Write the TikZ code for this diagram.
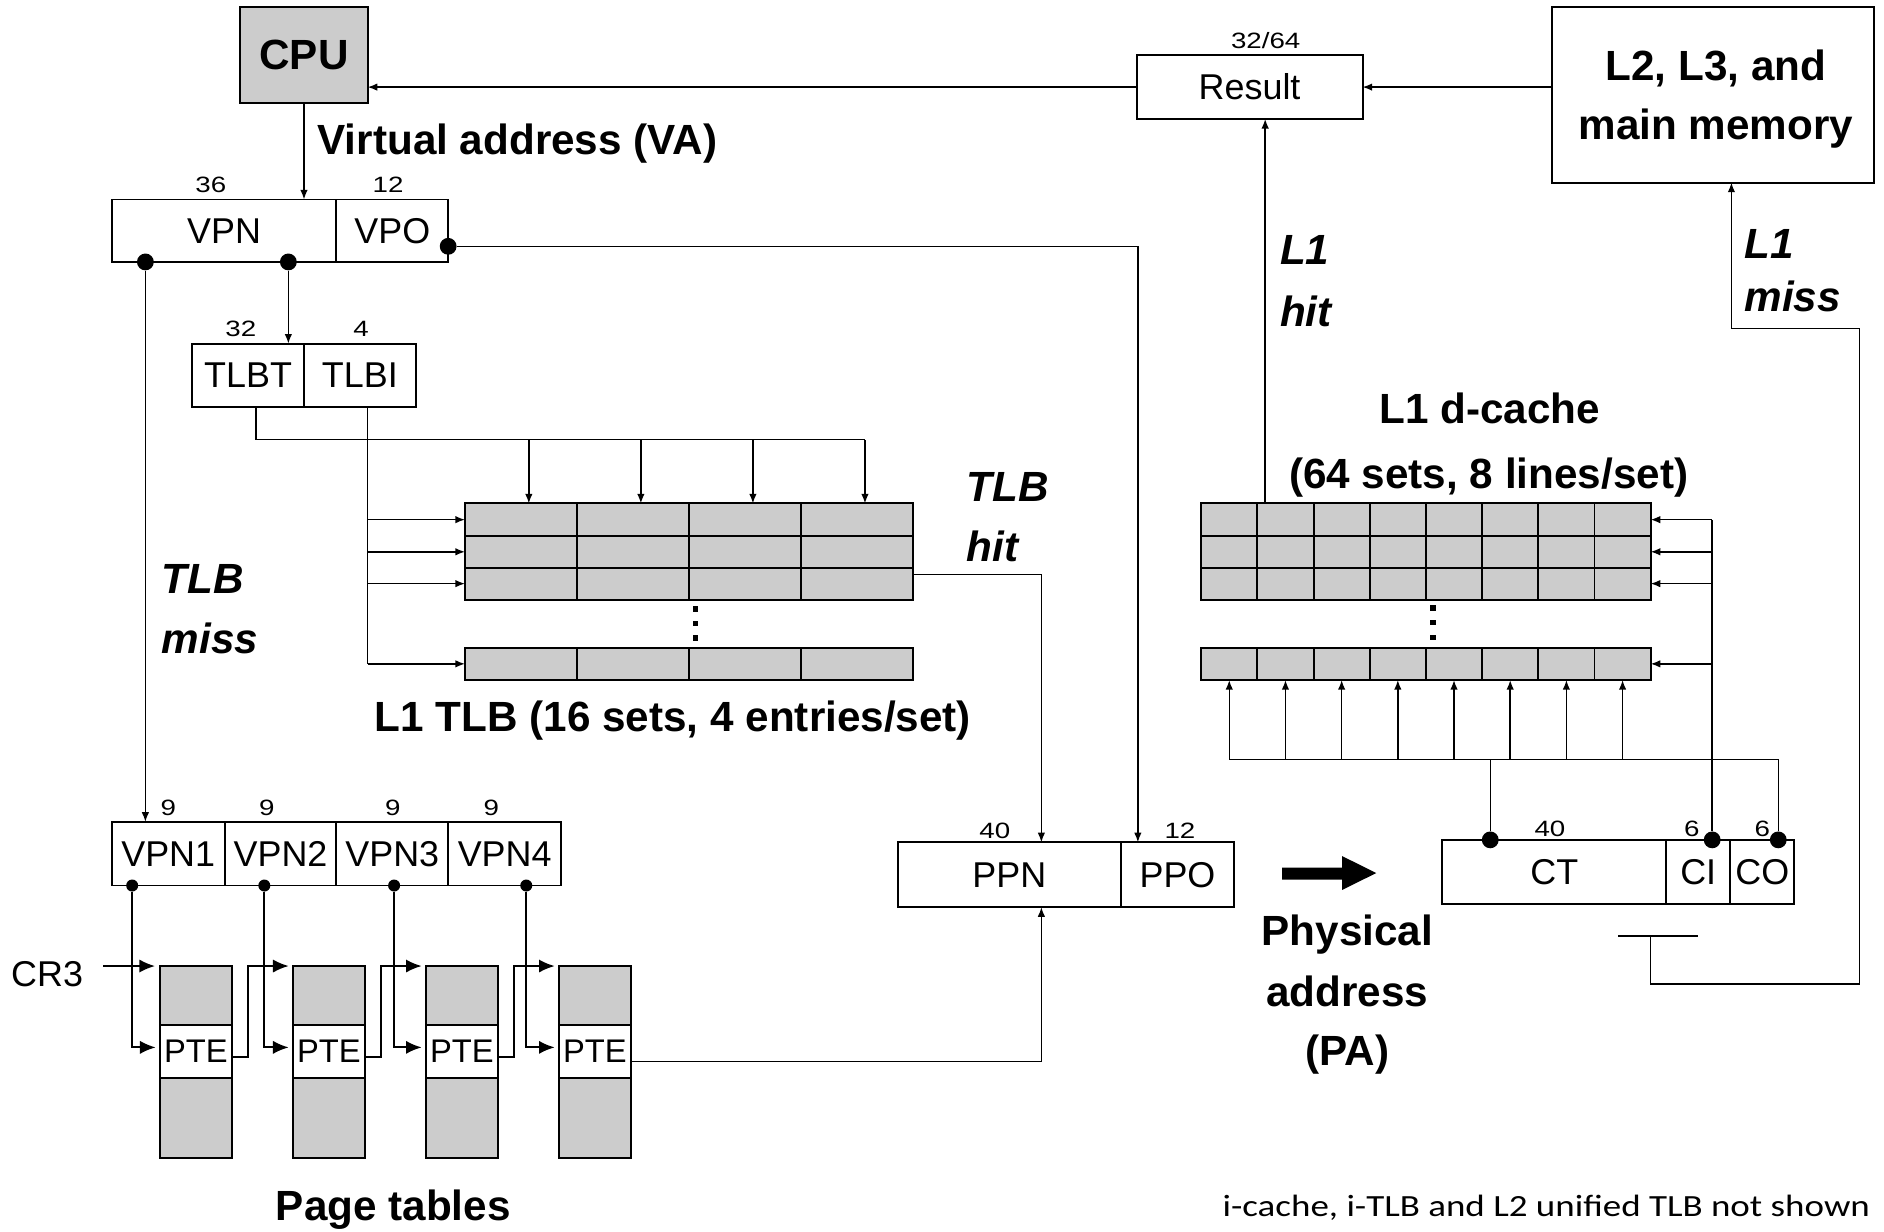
\documentclass[tikz,border=0pt]{standalone}
\usepackage{fontspec}
\setmainfont{Liberation Sans}
\newfontfamily\numfont[FakeStretch=1.25]{Liberation Sans}
\newfontfamily\notefont[FakeStretch=1.2]{Carlito}
\usetikzlibrary{arrows.meta}
\definecolor{cellgray}{HTML}{CCCCCC}
\newcommand\regf{\fontsize{17}{20}\selectfont}
\newcommand\bigf{\fontsize{20}{24}\selectfont\bfseries}
\newcommand\itf{\fontsize{20}{24}\selectfont\bfseries\itshape}
\newcommand\numf{\numfont\fontsize{10.5}{12}\selectfont}
\newcommand\ptef{\fontsize{15.5}{18}\selectfont}
\newcommand\notef{\notefont\fontsize{14.6}{17}\selectfont}
\newcommand\mkbox[7][]{\node[#1, minimum width={(#5-#3)*0.2mm}, minimum height={(#6-#4)*0.2mm}] (#2) at ({(#3+#5)/2},{(#4+#6)/2}) {#7};}
\begin{document}
\begin{tikzpicture}[x=0.2mm,y=-0.2mm,
  bx/.style={draw,line width=0.9pt,inner sep=0pt,outer sep=0pt},
  gr/.style={bx,fill=cellgray},
  con/.style={line width=0.7pt},
  arr/.style={con,-{Latex[length=1.6mm,width=1.25mm]}},
  bigarr/.style={line width=0.85pt,-{Latex[length=2.6mm,width=2.2mm]}},
  bigdot/.style={circle,fill,inner sep=0pt,minimum size=2.8mm},
  smalldot/.style={circle,fill,inner sep=0pt,minimum size=2mm},
  lab/.style={inner sep=0pt,outer sep=0pt},
]
\useasboundingbox (0,0) rectangle (1568,1025);

% ---------- boxes ----------
\mkbox[gr,font=\bigf]{cpu}{200}{6}{306}{86}{CPU}
\mkbox[bx,font=\regf]{result}{946}{46}{1134}{99}{Result}
\mkbox[bx]{l2}{1292}{6}{1560}{152}{}
\mkbox[bx,font=\regf]{vpn}{93}{166}{280}{218}{VPN}
\mkbox[bx,font=\regf]{vpo}{280}{166}{373}{218}{VPO}
\mkbox[bx,font=\regf]{tlbt}{160}{286}{253}{339}{TLBT}
\mkbox[bx,font=\regf]{tlbi}{253}{286}{346}{339}{TLBI}
\foreach \i/\xa/\xb in {1/93/187,2/187/280,3/280/373,4/373/467}
  {\mkbox[bx,font=\regf]{vpn\i}{\xa}{684}{\xb}{737}{VPN\i}}
\mkbox[bx,font=\regf]{ppn}{747}{701}{933}{755}{PPN}
\mkbox[bx,font=\regf]{ppo}{933}{701}{1027}{755}{PPO}
\mkbox[bx,font=\regf]{ct}{1200.3}{699}{1386.8}{752.7}{CT}
\mkbox[bx,font=\regf]{ci}{1386.8}{699}{1440}{752.7}{CI}
\mkbox[bx,font=\regf]{co}{1440}{699}{1493.4}{752.7}{CO}

% TLB grid
\foreach \r/\ya/\yb in {1/419/446,2/446/472.5,3/472.5/499,4/539/566}{
  \foreach \c in {1,...,4}{
    \pgfmathsetmacro\xa{387+(\c-1)*93.25}
    \pgfmathsetmacro\xb{387+\c*93.25}
    \mkbox[gr]{tlb-\r-\c}{\xa}{\ya}{\xb}{\yb}{}
  }
}
% cache grid
\foreach \r/\ya/\yb in {1/419/446,2/446/472.5,3/472.5/499,4/539/566}{
  \foreach \c in {1,...,8}{
    \pgfmathsetmacro\xa{999.7+(\c-1)*46.7625}
    \pgfmathsetmacro\xb{999.7+\c*46.7625}
    \mkbox[gr]{dc-\r-\c}{\xa}{\ya}{\xb}{\yb}{}
  }
}
% page tables
\foreach \i in {1,...,4}{
  \pgfmathsetmacro\xa{133+(\i-1)*110.7}
  \pgfmathsetmacro\xb{\xa+60}
  \mkbox[gr]{pta\i}{\xa}{804}{\xb}{853}{}
  \mkbox[bx,fill=white,font=\ptef]{pte\i}{\xa}{853}{\xb}{897}{PTE}
  \mkbox[gr]{ptb\i}{\xa}{897}{\xb}{964}{}
}
% ellipsis dots
\foreach \y in {507,519,531}{\fill (576.7,\y-2.3) rectangle ++(4.6,4.6);}
\foreach \y in {506,518,530.5}{\fill (1190.2,\y-2.3) rectangle ++(4.6,4.6);}

% ---------- labels ----------
\node[lab,font=\bigf,anchor=base west] (va) at (264.3,128.2) {Virtual address (VA)};
\node[lab,font=\numf,anchor=base] (n36) at (175.5,160.4) {36};
\node[lab,font=\numf,anchor=base] (n12) at (323,160.4) {12};
\node[lab,font=\numf,anchor=base] (n32) at (200.5,280.2) {32};
\node[lab,font=\numf,anchor=base] (n4) at (300.6,280.2) {4};
\foreach \i/\x in {1/140,2/222,3/327,4/409}{\node[lab,font=\numf,anchor=base] (n9-\i) at (\x,679) {9};}
\node[lab,font=\numf,anchor=base] (n40a) at (828,697.7) {40};
\node[lab,font=\numf,anchor=base] (n12b) at (982,697.7) {12};
\node[lab,font=\numf,anchor=base] (n40b) at (1290,695.8) {40};
\node[lab,font=\numf,anchor=base] (n6a) at (1408,695.8) {6};
\node[lab,font=\numf,anchor=base] (n6b) at (1466.7,695.8) {6};
\node[lab,font=\numf,anchor=base] (n3264) at (1053.4,40.2) {32/64};
\node[lab,font=\bigf,anchor=base] (l2a) at (1428,66.6) {L2, L3, and};
\node[lab,font=\bigf,anchor=base] (l2b) at (1428,116.5) {main memory};
\node[lab,font=\itf,anchor=base west] (hit1) at (1065.3,220.5) {L1};
\node[lab,font=\itf,anchor=base west] (hit2) at (1065.3,271.9) {hit};
\node[lab,font=\itf,anchor=base west] (miss1) at (1452,215) {L1};
\node[lab,font=\itf,anchor=base west] (miss2) at (1452,259.4) {miss};
\node[lab,font=\itf,anchor=base west] (th1) at (804.6,417) {TLB};
\node[lab,font=\itf,anchor=base west] (th2) at (804.6,467.5) {hit};
\node[lab,font=\itf,anchor=base west] (tm1) at (134.6,493.8) {TLB};
\node[lab,font=\itf,anchor=base west] (tm2) at (134.6,543.8) {miss};
\node[lab,font=\bigf,anchor=base west] (l1tlb) at (312,609) {L1 TLB (16 sets, 4 entries/set)};
\node[lab,font=\bigf,anchor=base] (dca) at (1240,352.3) {L1 d-cache};
\node[lab,font=\bigf,anchor=base] (dcb) at (1239,406.4) {(64 sets, 8 lines/set)};
\node[lab,font=\bigf,anchor=base] (pa1) at (1121.4,786.5) {Physical};
\node[lab,font=\bigf,anchor=base] (pa2) at (1121.4,837.9) {address};
\node[lab,font=\bigf,anchor=base] (pa3) at (1121.4,886.4) {(PA)};
\node[lab,font=\regf,anchor=base west] (cr3) at (9.3,821.2) {CR3};
\node[lab,font=\bigf,anchor=base west] (ptl) at (229.6,1015.4) {Page tables};
\node[lab,font=\notef,anchor=base west] (note) at (1017.5,1012.6) {i-cache, i-TLB and L2 unified TLB not shown};

% ---------- dots ----------
\node[bigdot] (dv1) at (121,218) {};
\node[bigdot] (dv2) at (240,218) {};
\node[bigdot] (dvpo) at (373,205) {};
\foreach \i/\x in {1/110,2/220,3/328,4/438}{\node[smalldot] (pd\i) at (\x,737) {};}
\node[bigdot] (cd1) at (1240.3,699) {};
\node[bigdot] (cd2) at (1425,699) {};
\node[bigdot] (cd3) at (1480,699) {};

% ---------- connectors ----------
\draw[arr] (cpu.south) -- (cpu.south |- vpn.north);
\draw[arr] (result.west) -- (result.west -| cpu.east);
\draw[arr] (l2.west |- result.east) -- (result.east);
\coordinate (l1h) at ([xshift=1.3mm]dc-1-2.north west);
\draw[arr] (l1h) -- (l1h |- result.south);
\coordinate (l2in) at ([xshift=3mm]l2.south);
\draw[con] (1347,779) -- (1413.5,779);
\draw[arr] (1373.5,779) -- (1373.5,819) -- (1547.6,819) -- (1547.6,273.3) -| (l2in);

\coordinate (ppoin) at ([xshift=-6.6mm]ppo.north);
\draw[arr] (dvpo) -| (ppoin);
\draw[arr] (dv1) -- (dv1 |- vpn1.north);
\draw[arr] (dv2) -- (dv2 |- tlbt.north);

% TLBT bus
\coordinate (tbt) at ([xshift=1.3mm]tlbt.south);
\coordinate (tbusR) at (720,366);
\draw[con] (tbt) |- (tbusR);
\foreach \c in {1,...,4}{
  \coordinate (ta\c) at ([xshift=1.3mm]tlb-1-\c.north);
  \draw[arr] (ta\c |- tbusR) -- (ta\c);
}
% TLBI bus
\coordinate (tbi) at ([xshift=1.3mm]tlbi.south);
\draw[con] (tbi) -- (tbi |- tlb-4-1.west);
\foreach \r in {1,...,4}{\draw[arr] (tbi |- tlb-\r-1.west) -- (tlb-\r-1.west);}
% TLB hit
\coordinate (ppnin) at ([xshift=5.34mm]ppn.north);
\draw[arr] ([yshift=1.55mm]tlb-3-4.east) -| (ppnin);

% page walk
\foreach \i in {1,...,4}{\draw[bigarr,shorten >=0.7mm] (pd\i) |- ([yshift=0.66mm]pte\i.west);}
\foreach \i/\j in {1/2,2/3,3/4}{\draw[bigarr,shorten >=0.7mm] ([yshift=-0.9mm]pte\i.east) -- ++(2.7mm,0) |- (pta\j.north west);}
\coordinate (cr3s) at ([xshift=3.4mm]cr3.east);
\draw[bigarr,shorten >=0.8mm] (cr3s |- pta1.north west) -- (pta1.north west);
\coordinate (ppnbot) at ([xshift=5.34mm]ppn.south);
\draw[arr] ([yshift=-1.72mm]pte4.east) -| (ppnbot);

% PA arrow
\fill (1067,722) -- (1117,722) -- (1117,712.5) -- (1145.4,726.6) -- (1117,740.7) -- (1117,732) -- (1067,732) -- cycle;

% cache index / offset buses
\coordinate (cbusR) at (1480,632);
\draw[con] (cd1) -- (cd1 |- cbusR);
\draw[con] (cd3) -- (cd3 |- cbusR);
\draw[con] (dc-4-1.south |- cbusR) -- (cbusR);
\foreach \c in {1,...,8}{\draw[arr] (dc-4-\c.south |- cbusR) -- (dc-4-\c.south);}
\draw[con] (cd2) -- (cd2 |- dc-1-8.east);
\foreach \r in {1,...,4}{\draw[arr] (cd2 |- dc-\r-8.east) -- (dc-\r-8.east);}
\end{tikzpicture}
\end{document}
